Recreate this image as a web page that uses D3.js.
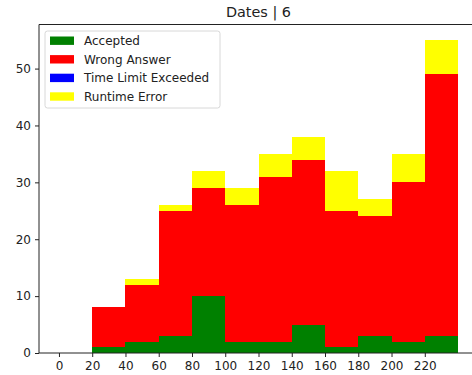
<!DOCTYPE html>
<html>
<head>
<meta charset="utf-8">
<script src="https://cdn.jsdelivr.net/npm/d3@7/dist/d3.min.js"></script>
<style>
  html, body { margin: 0; padding: 0; background: #fff; }
  svg { display: block; font-family: "DejaVu Sans", sans-serif; }
</style>
</head>
<body>
<svg id="chart" width="472" height="375"></svg>
<script>
// Bin edges (minutes) and counts per verdict in each bin
const binEdges = [20, 40, 60, 80, 100, 120, 140, 160, 180, 200, 220, 240];
const accepted = [1, 2, 3, 10, 2, 2, 5, 1, 3, 2, 3];
const wrongAnswer = [7, 10, 22, 19, 24, 29, 29, 24, 21, 28, 46];
const timeLimit = [0, 0, 0, 0, 0, 0, 0, 0, 0, 0, 0];
const runtimeError = [0, 1, 1, 3, 3, 4, 4, 7, 3, 5, 6];

const seriesNames = ["Accepted", "Wrong Answer", "Time Limit Exceeded", "Runtime Error"];
const seriesColors = ["#008000", "#ff0000", "#0000ff", "#ffff00"];
const xTicks = [0, 20, 40, 60, 80, 100, 120, 140, 160, 180, 200, 220];
const yTicks = [0, 10, 20, 30, 40, 50];
const title = "Dates | 6";

const rows = accepted.map((_, i) => ({
  x0: binEdges[i], x1: binEdges[i + 1],
  "Accepted": accepted[i],
  "Wrong Answer": wrongAnswer[i],
  "Time Limit Exceeded": timeLimit[i],
  "Runtime Error": runtimeError[i]
}));

const svg = d3.select("#chart");
const plot = { left: 39, right: 478, top: 24.5, bottom: 353 };

const stacked = d3.stack().keys(seriesNames)(rows);
const yMax = d3.max(stacked[stacked.length - 1], d => d[1]);
const xMin = binEdges[0] - 20, xMax = binEdges[binEdges.length - 1];
const xPad = (xMax - 0) * 0.05;

const x = d3.scaleLinear().domain([0 - xPad, xMax + xPad]).range([plot.left, plot.right]);
const y = d3.scaleLinear().domain([0, yMax * 1.05]).range([plot.bottom, plot.top]);

// Stacked histogram bars
svg.append("g").selectAll("g")
  .data(stacked)
  .join("g")
  .attr("fill", (d, i) => seriesColors[i])
  .selectAll("rect")
  .data(d => d)
  .join("rect")
  .attr("x", d => x(d.data.x0))
  .attr("width", d => x(d.data.x1) - x(d.data.x0))
  .attr("y", d => y(d[1]))
  .attr("height", d => y(d[0]) - y(d[1]))
  .attr("shape-rendering", "crispEdges");

// Axes
const xAxis = d3.axisBottom(x).tickValues(xTicks).tickSize(4).tickPadding(4);
const yAxis = d3.axisLeft(y).tickValues(yTicks).tickSize(4).tickPadding(4);

const gx = svg.append("g").attr("transform", `translate(0,${plot.bottom})`).call(xAxis);
const gy = svg.append("g").attr("transform", `translate(${plot.left},0)`).call(yAxis);
[gx, gy].forEach(g => {
  g.select(".domain").remove();
  g.selectAll("text").attr("font-size", 12).attr("font-family", "DejaVu Sans").attr("fill", "#222");
  g.selectAll("line").attr("stroke", "#222");
});

// Spines
const spines = svg.append("g").attr("stroke", "#222").attr("stroke-width", 1).attr("fill", "none");
spines.append("line").attr("x1", plot.left).attr("x2", plot.right).attr("y1", plot.bottom).attr("y2", plot.bottom);
spines.append("line").attr("x1", plot.left).attr("x2", plot.right).attr("y1", plot.top).attr("y2", plot.top);
spines.append("line").attr("x1", plot.left).attr("x2", plot.left).attr("y1", plot.top).attr("y2", plot.bottom);
spines.append("line").attr("x1", plot.right).attr("x2", plot.right).attr("y1", plot.top).attr("y2", plot.bottom);

// Title
svg.append("text")
  .attr("x", (plot.left + plot.right) / 2)
  .attr("y", 17)
  .attr("text-anchor", "middle")
  .attr("font-size", 14.4)
  .attr("fill", "#222")
  .text(title);

// Legend
const legend = svg.append("g").attr("transform", "translate(45,31)");
legend.append("rect")
  .attr("x", 0).attr("y", 0).attr("width", 175).attr("height", 77)
  .attr("rx", 2.5)
  .attr("fill", "#fff").attr("fill-opacity", 0.8)
  .attr("stroke", "#d8d8d8").attr("stroke-width", 1);
const items = legend.selectAll("g.item")
  .data(seriesNames)
  .join("g")
  .attr("class", "item")
  .attr("transform", (d, i) => `translate(0,${9.7 + i * 18.6})`);
items.append("rect")
  .attr("x", 5).attr("y", -4.2).attr("width", 24).attr("height", 8.4)
  .attr("fill", (d, i) => seriesColors[i]);
items.append("text")
  .attr("x", 39).attr("y", 0)
  .attr("dy", "0.36em")
  .attr("font-size", 12)
  .attr("fill", "#222")
  .text(d => d);
</script>
</body>
</html>
